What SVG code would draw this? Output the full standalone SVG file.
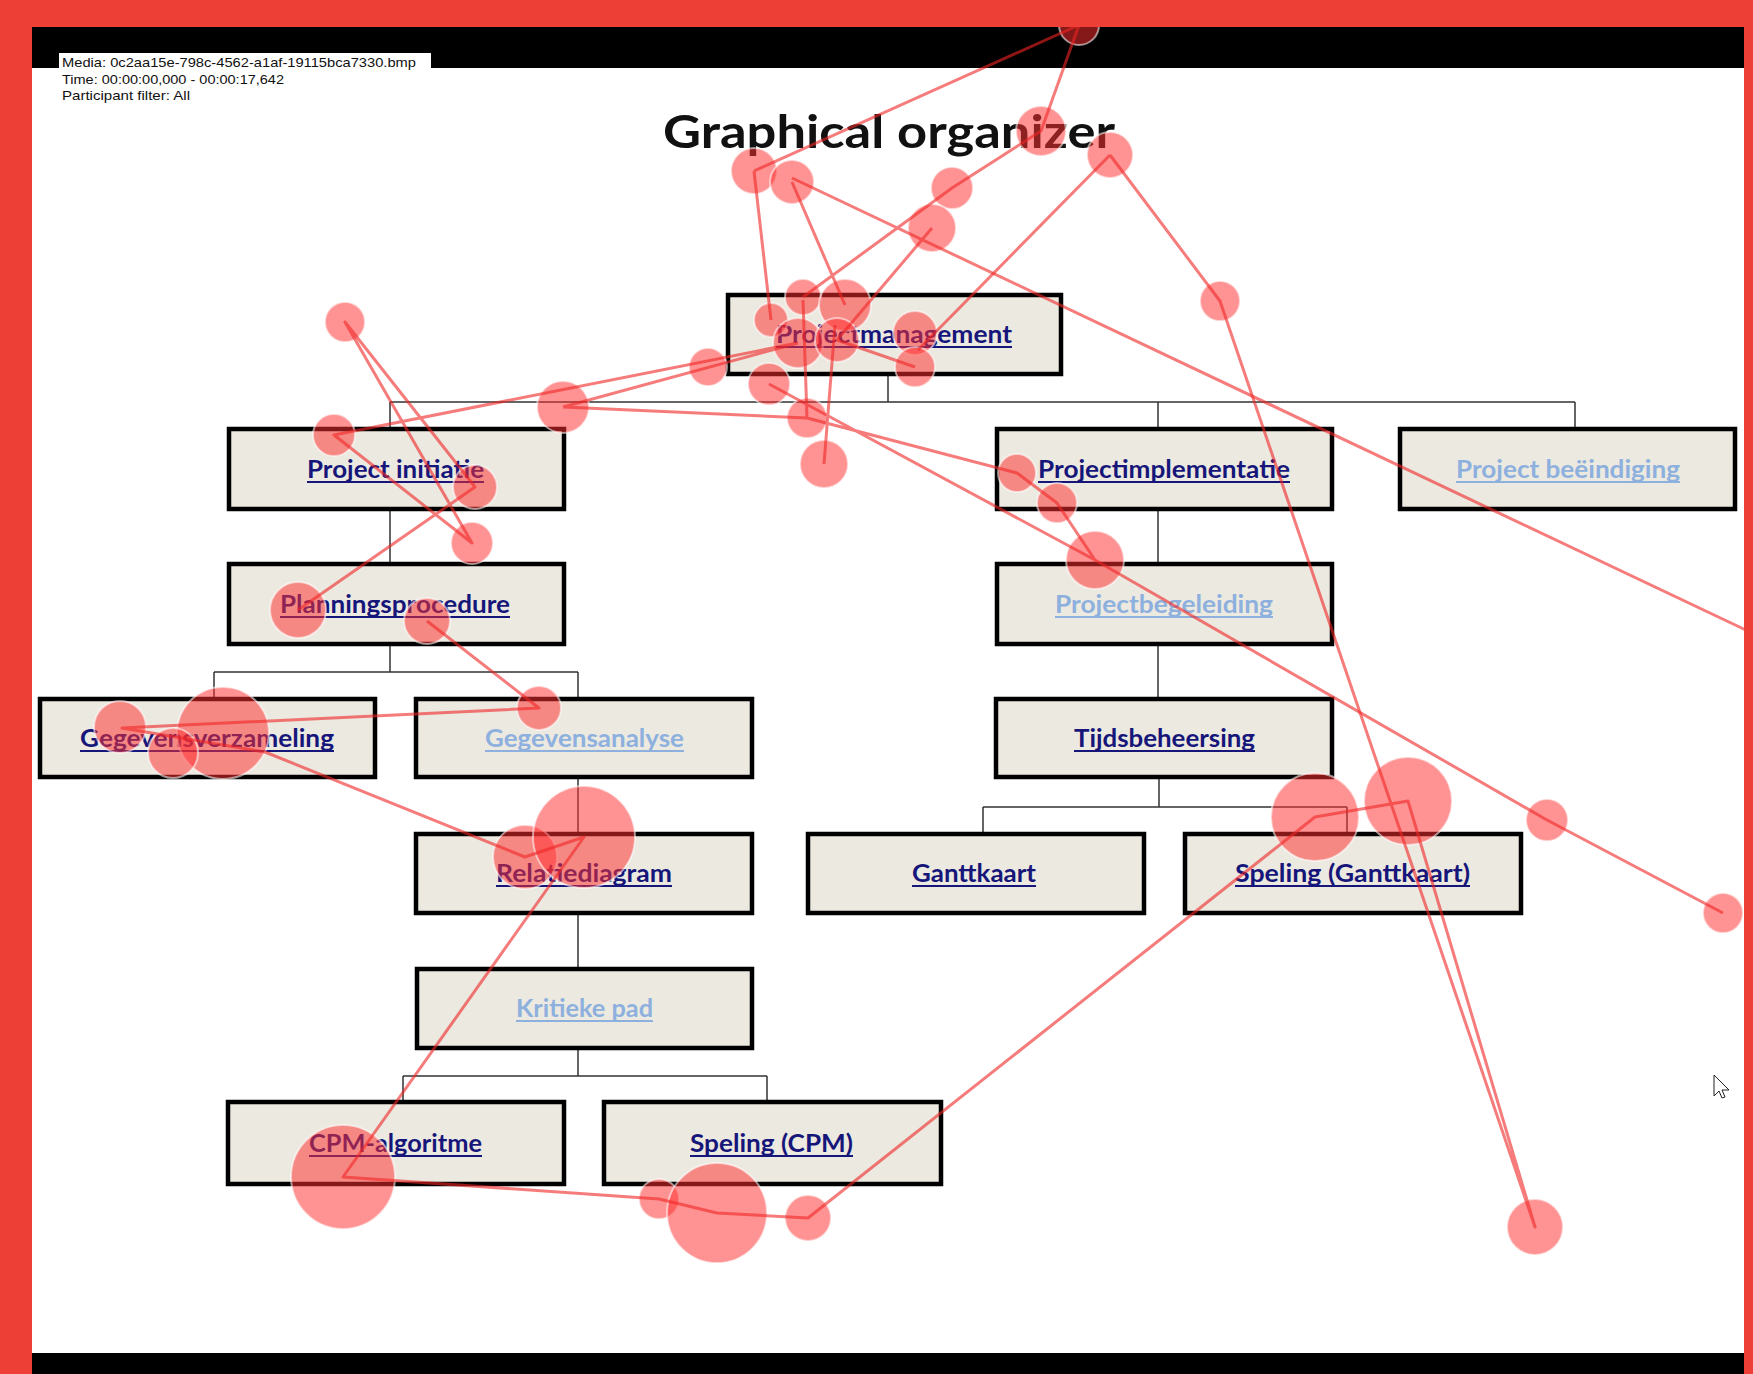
<svg xmlns="http://www.w3.org/2000/svg" width="1753" height="1374" viewBox="0 0 1753 1374">
<style>
.box{fill:#ECE9E0;stroke:#000;stroke-width:4.5}
.lbl{font-family:Lato,"Open Sans","Liberation Sans",sans-serif;font-weight:bold;font-size:24px}
.dk{fill:#16167A}
.lt{fill:#8DB0DE}
.uldk{stroke:#16167A;stroke-width:2}
.ullt{stroke:#8DB0DE;stroke-width:2}
.conn{stroke:#333;stroke-width:1.5;fill:none}
.fix{fill:#ff3030;fill-opacity:0.52;stroke:#ffffff;stroke-opacity:0.55;stroke-width:2}
.sac{stroke:#f02525;stroke-opacity:0.6;stroke-width:3;fill:none;stroke-linejoin:round}
.hdr{font-family:"Liberation Sans",Arial,sans-serif;font-size:13.5px;fill:#111}
</style>
<rect x="0" y="0" width="1753" height="1374" fill="#fff"/>
<rect x="32" y="27" width="1712" height="41" fill="#000"/>
<rect x="32" y="1353" width="1712" height="21" fill="#000"/>
<g id="header">
<rect x="59" y="53" width="372" height="16" fill="#fff"/>
<text class="hdr" x="62" y="67" textLength="354" lengthAdjust="spacingAndGlyphs">Media: 0c2aa15e-798c-4562-a1af-19115bca7330.bmp</text>
<text class="hdr" x="62" y="84" textLength="222" lengthAdjust="spacingAndGlyphs">Time: 00:00:00,000 - 00:00:17,642</text>
<text class="hdr" x="62" y="100" textLength="128" lengthAdjust="spacingAndGlyphs">Participant filter: All</text>
</g>
<text id="title" x="663" y="148" font-family="Lato,'Open Sans','Liberation Sans',sans-serif" font-weight="bold" font-size="45" fill="#111" textLength="452" lengthAdjust="spacingAndGlyphs">Graphical organizer</text>
<g id="connectors">
<path class="conn" d="M888,376V402M390,402H1575M390,402V427M1158,402V427M1575,402V427"/>
<path class="conn" d="M390,511V562M390,646V672M214,672H578M214,672V697M578,672V697"/>
<path class="conn" d="M578,779V832M578,915V967M578,1050V1076M403,1076H767M403,1076V1101M767,1076V1101"/>
<path class="conn" d="M1158,510V562M1158,646V697M1159,779V807M983,807H1347M983,807V832M1347,807V832"/>
</g>
<g id="n-projectmanagement"><rect class="box" x="728" y="295" width="333" height="79"/><text class="lbl dk" x="776" y="343" textLength="236" lengthAdjust="spacingAndGlyphs">Projectmanagement</text><line class="uldk" x1="776" y1="347" x2="1012" y2="347"/></g>
<g id="n-project-initiatie"><rect class="box" x="229" y="429" width="335" height="80"/><text class="lbl dk" x="307" y="478" textLength="177" lengthAdjust="spacingAndGlyphs">Project initiatie</text><line class="uldk" x1="307" y1="482" x2="484" y2="482"/></g>
<g id="n-projectimplementatie"><rect class="box" x="997" y="429" width="335" height="80"/><text class="lbl dk" x="1038" y="478" textLength="252" lengthAdjust="spacingAndGlyphs">Projectimplementatie</text><line class="uldk" x1="1038" y1="482" x2="1290" y2="482"/></g>
<g id="n-project-beeindiging"><rect class="box" x="1400" y="429" width="335" height="80"/><text class="lbl lt" x="1456" y="478" textLength="224" lengthAdjust="spacingAndGlyphs">Project beëindiging</text><line class="ullt" x1="1456" y1="482" x2="1680" y2="482"/></g>
<g id="n-planningsprocedure"><rect class="box" x="229" y="564" width="335" height="80"/><text class="lbl dk" x="280" y="613" textLength="230" lengthAdjust="spacingAndGlyphs">Planningsprocedure</text><line class="uldk" x1="280" y1="617" x2="510" y2="617"/></g>
<g id="n-projectbegeleiding"><rect class="box" x="997" y="564" width="335" height="80"/><text class="lbl lt" x="1055" y="613" textLength="218" lengthAdjust="spacingAndGlyphs">Projectbegeleiding</text><line class="ullt" x1="1055" y1="617" x2="1273" y2="617"/></g>
<g id="n-gegevensverzameling"><rect class="box" x="40" y="699" width="335" height="78"/><text class="lbl dk" x="80" y="747" textLength="254" lengthAdjust="spacingAndGlyphs">Gegevensverzameling</text><line class="uldk" x1="80" y1="751" x2="334" y2="751"/></g>
<g id="n-gegevensanalyse"><rect class="box" x="416" y="699" width="336" height="78"/><text class="lbl lt" x="485" y="747" textLength="199" lengthAdjust="spacingAndGlyphs">Gegevensanalyse</text><line class="ullt" x1="485" y1="751" x2="684" y2="751"/></g>
<g id="n-tijdsbeheersing"><rect class="box" x="996" y="699" width="336" height="78"/><text class="lbl dk" x="1074" y="747" textLength="181" lengthAdjust="spacingAndGlyphs">Tijdsbeheersing</text><line class="uldk" x1="1074" y1="751" x2="1255" y2="751"/></g>
<g id="n-relatiediagram"><rect class="box" x="416" y="834" width="336" height="79"/><text class="lbl dk" x="496" y="882" textLength="176" lengthAdjust="spacingAndGlyphs">Relatiediagram</text><line class="uldk" x1="496" y1="886" x2="672" y2="886"/></g>
<g id="n-ganttkaart"><rect class="box" x="808" y="834" width="336" height="79"/><text class="lbl dk" x="912" y="882" textLength="124" lengthAdjust="spacingAndGlyphs">Ganttkaart</text><line class="uldk" x1="912" y1="886" x2="1036" y2="886"/></g>
<g id="n-speling-ganttkaart"><rect class="box" x="1185" y="834" width="336" height="79"/><text class="lbl dk" x="1235" y="882" textLength="235" lengthAdjust="spacingAndGlyphs">Speling (Ganttkaart)</text><line class="uldk" x1="1235" y1="886" x2="1470" y2="886"/></g>
<g id="n-kritieke-pad"><rect class="box" x="417" y="969" width="335" height="79"/><text class="lbl lt" x="516" y="1017" textLength="137" lengthAdjust="spacingAndGlyphs">Kritieke pad</text><line class="ullt" x1="516" y1="1021" x2="653" y2="1021"/></g>
<g id="n-cpm-algoritme"><rect class="box" x="228" y="1102" width="336" height="82"/><text class="lbl dk" x="309" y="1152" textLength="173" lengthAdjust="spacingAndGlyphs">CPM-algoritme</text><line class="uldk" x1="309" y1="1156" x2="482" y2="1156"/></g>
<g id="n-speling-cpm"><rect class="box" x="604" y="1102" width="337" height="82"/><text class="lbl dk" x="690" y="1152" textLength="163" lengthAdjust="spacingAndGlyphs">Speling (CPM)</text><line class="uldk" x1="690" y1="1156" x2="853" y2="1156"/></g>
<g id="gaze-fixations">
<circle class="fix" cx="1079" cy="25" r="20"/>
<circle class="fix" cx="1041" cy="131" r="25"/>
<circle class="fix" cx="1110" cy="155" r="23"/>
<circle class="fix" cx="754" cy="171" r="23"/>
<circle class="fix" cx="792" cy="182" r="22"/>
<circle class="fix" cx="952" cy="188" r="21"/>
<circle class="fix" cx="932" cy="228" r="24"/>
<circle class="fix" cx="1220" cy="301" r="20"/>
<circle class="fix" cx="803" cy="297" r="18"/>
<circle class="fix" cx="845" cy="305" r="26"/>
<circle class="fix" cx="771" cy="320" r="17"/>
<circle class="fix" cx="798" cy="343" r="25"/>
<circle class="fix" cx="837" cy="340" r="22"/>
<circle class="fix" cx="915" cy="333" r="22"/>
<circle class="fix" cx="915" cy="367" r="20"/>
<circle class="fix" cx="708" cy="367" r="19"/>
<circle class="fix" cx="769" cy="384" r="21"/>
<circle class="fix" cx="807" cy="418" r="20"/>
<circle class="fix" cx="824" cy="464" r="24"/>
<circle class="fix" cx="1017" cy="473" r="19"/>
<circle class="fix" cx="1057" cy="503" r="20"/>
<circle class="fix" cx="1095" cy="560" r="29"/>
<circle class="fix" cx="345" cy="322" r="20"/>
<circle class="fix" cx="334" cy="435" r="21"/>
<circle class="fix" cx="563" cy="407" r="26"/>
<circle class="fix" cx="475" cy="487" r="22"/>
<circle class="fix" cx="472" cy="543" r="21"/>
<circle class="fix" cx="298" cy="610" r="28"/>
<circle class="fix" cx="427" cy="621" r="23"/>
<circle class="fix" cx="539" cy="708" r="22"/>
<circle class="fix" cx="120" cy="727" r="26"/>
<circle class="fix" cx="223" cy="733" r="46"/>
<circle class="fix" cx="173" cy="753" r="25"/>
<circle class="fix" cx="525" cy="857" r="32"/>
<circle class="fix" cx="584" cy="837" r="51"/>
<circle class="fix" cx="343" cy="1177" r="52"/>
<circle class="fix" cx="659" cy="1199" r="20"/>
<circle class="fix" cx="717" cy="1213" r="50"/>
<circle class="fix" cx="808" cy="1218" r="23"/>
<circle class="fix" cx="1315" cy="817" r="44"/>
<circle class="fix" cx="1408" cy="801" r="44"/>
<circle class="fix" cx="1547" cy="820" r="21"/>
<circle class="fix" cx="1723" cy="913" r="20"/>
<circle class="fix" cx="1535" cy="1227" r="28"/>
</g>
<g id="gaze-saccades">
<path class="sac" d="M1079,25L754,171M1079,25L1041,131L952,188L803,297M932,228L837,340L915,367M754,171L771,320M792,182L845,305M792,178L1750,632"/>
<path class="sac" d="M1110,155L918,350M1110,155L1220,301L1535,1227L1408,801L1315,817L808,1218L717,1213L659,1199L343,1177L584,837L525,857L265,752L122,728L539,708L427,621"/>
<path class="sac" d="M298,610L475,487L345,322L472,543L334,435L798,343M563,407L798,343M563,407L807,418L803,300M807,418L1017,473L1057,503L1095,560M769,384L1095,560L1547,820L1723,913M824,464L835,325"/>
</g>
<path id="cursor" d="M1714,1075V1096L1719,1091L1722,1098L1725,1097L1722,1090L1729,1090Z" fill="#fff" stroke="#222" stroke-width="1"/>
<g id="frame" fill="#EE3F37">
<rect x="0" y="0" width="1753" height="27"/>
<rect x="0" y="0" width="32" height="1374"/>
<rect x="1744" y="0" width="9" height="1374"/>
</g>
</svg>
